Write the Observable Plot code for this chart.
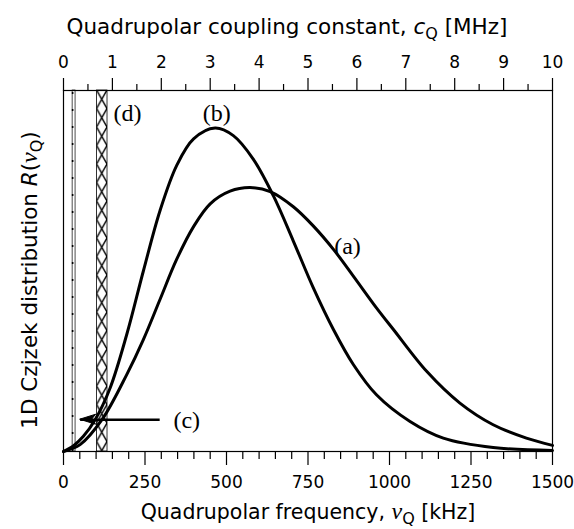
<!DOCTYPE html>
<html><head><meta charset="utf-8">
<script src="https://cdn.jsdelivr.net/npm/d3@7"></script>
<script src="https://cdn.jsdelivr.net/npm/@observablehq/plot@0.6"></script>
<style>
html,body{margin:0;padding:0;background:#fff;}
</style></head><body><div id="chart"></div>
<script>
// ---- data ----
// curve (a): quadrupolar frequency [kHz] and R(νQ) (arbitrary units)
const nuA = [0, 51, 118, 194, 245, 296, 347, 399, 450, 511, 572, 634, 705, 766, 828, 889, 960, 1012, 1114, 1216, 1318, 1420, 1500];
const rA  = [0, 1.9, 8.8, 21.3, 31.0, 42.1, 53.2, 62.3, 68.6, 72.1, 73.1, 72.0, 67.8, 62.5, 56.0, 48.6, 39.8, 33.8, 22.2, 13.4, 7.4, 3.7, 1.7];
// curve (b)
const nuB = [0, 31, 61, 97, 143, 194, 245, 296, 347, 399, 465, 521, 582, 644, 705, 766, 828, 889, 960, 1063, 1165, 1318, 1500];
const rB  = [0, 1.6, 4.2, 8.8, 17.6, 32.4, 50.0, 66.7, 79.2, 86.6, 89.6, 87.5, 81.0, 70.8, 58.3, 45.4, 33.8, 24.1, 15.7, 8.3, 3.7, 1.1, 0.3];
// bands (kHz)
const bandC = [28, 37];
const bandD = [103, 135];
// arrow (c): [kHz, R]
const arrowFrom = [295, 8.8];
const arrowTo = [51, 8.8];
// curve labels
const labelText = ["(a)", "(b)", "(c)", "(d)"];
const labelNu   = [871, 470, 378, 196];
const labelR    = [56.8, 93.8, 8.6, 93.6];
// ticks
const bottomMajor = [0, 250, 500, 750, 1000, 1250, 1500];
const bottomMinor = [50, 100, 150, 200, 300, 350, 400, 450, 550, 600, 650, 700, 800, 850, 900, 950, 1050, 1100, 1150, 1200, 1300, 1350, 1400, 1450];
const topMajor = [0, 1, 2, 3, 4, 5, 6, 7, 8, 9, 10];          // MHz
const topMinor = [0.5, 1.5, 2.5, 3.5, 4.5, 5.5, 6.5, 7.5, 8.5, 9.5];
const kHzPerMHz = 150; // νQ = cQ * 150 kHz/MHz (top axis conversion)

const SANS = '"DejaVu Sans",sans-serif';
const SERIF = '"Liberation Serif","DejaVu Serif",serif';

const curveA = nuA.map((x, i) => ({x, y: rA[i]}));
const curveB = nuB.map((x, i) => ({x, y: rB[i]}));
const labels = labelText.map((t, i) => ({t, x: labelNu[i], y: labelR[i]}));

const plot = Plot.plot({
  width: 574, height: 529,
  marginLeft: 63, marginRight: 22, marginTop: 90, marginBottom: 78,
  x: {domain: [0, 1500]},
  y: {domain: [0, 100], axis: null},
  style: {fontFamily: SANS, background: "#fff", color: "#000"},
  marks: [
    Plot.rect([bandC], {x1: d => d[0], x2: d => d[1], y1: () => 0, y2: () => 100, fill: "white", stroke: "black", strokeWidth: 0.7}),
    Plot.ruleX([bandC[0]], {x: d => d, y1: () => 0, y2: () => 100, stroke: "black", strokeWidth: 1.6, strokeDasharray: "2,15"}),
    Plot.rect([bandD], {x1: d => d[0], x2: d => d[1], y1: () => 0, y2: () => 100, fill: "url(#xhatch)", stroke: "black", strokeWidth: 0.8}),
    Plot.line(curveA, {x: "x", y: "y", curve: "catmull-rom", stroke: "black", strokeWidth: 3}),
    Plot.line(curveB, {x: "x", y: "y", curve: "catmull-rom", stroke: "black", strokeWidth: 3}),
    Plot.link([{a: arrowFrom, b: arrowTo}], {x1: d => d.a[0], y1: d => d.a[1], x2: d => d.b[0], y2: d => d.b[1], stroke: "black", strokeWidth: 2.5}),
    Plot.text(labels, {x: "x", y: "y", text: "t", textAnchor: "middle", fontFamily: SERIF, fontSize: 24, fill: "black"}),
    Plot.frame({stroke: "black", strokeWidth: 1.2}),
    Plot.axisX(bottomMajor, {anchor: "bottom", tickSize: 14, tickPadding: 10, tickFormat: d => String(d), fontSize: 17, label: null, strokeWidth: 1.2}),
    Plot.axisX(bottomMinor, {anchor: "bottom", tickSize: 8, tickFormat: () => "", label: null, strokeWidth: 1.2}),
    Plot.axisX(topMajor.map(c => c * kHzPerMHz), {anchor: "top", tickSize: 13, tickPadding: 10, tickFormat: d => String(d / kHzPerMHz), fontSize: 17, label: null, strokeWidth: 1.2}),
    Plot.axisX(topMinor.map(c => c * kHzPerMHz), {anchor: "top", tickSize: 7, tickFormat: () => "", label: null, strokeWidth: 1.2})
  ]
});

const svg = d3.select(plot);
const xs = plot.scale("x"), ys = plot.scale("y");
const px1 = xs.apply(bandD[0]), px2 = xs.apply(bandD[1]);
const w = px2 - px1, h = 18.5;
const defs = svg.insert("defs", ":first-child");
const pat = defs.append("pattern").attr("id", "xhatch").attr("patternUnits", "userSpaceOnUse")
  .attr("x", px1).attr("y", 90).attr("width", w).attr("height", h);
pat.append("rect").attr("width", w).attr("height", h).attr("fill", "white");
pat.append("path").attr("d", `M0,0L${w},${h}M${w},0L0,${h}`).attr("stroke", "black").attr("stroke-width", 1.4).attr("fill", "none");

// filled arrow head at the (c) arrow tip
const tx = xs.apply(arrowTo[0]), ty = ys.apply(arrowTo[1]);
svg.append("path").attr("d", `M${tx},${ty}L${tx + 16},${ty - 5}L${tx + 12},${ty}L${tx + 16},${ty + 5}Z`).attr("fill", "black").attr("stroke", "black").attr("stroke-width", 1);

function title(g, parts, size) {
  const t = g.append("text").attr("font-family", SANS).attr("font-size", size).attr("fill", "black").attr("text-anchor", "middle");
  for (const p of parts) {
    const s = t.append("tspan").text(p.t);
    if (p.italic) s.attr("font-style", "italic");
    if (p.serif) s.attr("font-family", SERIF).attr("font-size", 24);
    if (p.sub) s.attr("font-size", 16).attr("dy", 5);
    if (p.up) s.attr("dy", -5);
  }
  return t;
}
title(svg.append("g").attr("transform", "translate(287,34)"), [
  {t: "Quadrupolar coupling constant, "}, {t: "c", italic: true}, {t: "Q", sub: true}, {t: " [MHz]", up: true}
], 21.5);
title(svg.append("g").attr("transform", "translate(308,519)"), [
  {t: "Quadrupolar frequency, "}, {t: "ν", italic: true, serif: true}, {t: "Q", sub: true}, {t: " [kHz]", up: true}
], 20.5);
title(svg.append("g").attr("transform", "translate(37,280) rotate(-90)"), [
  {t: "1D Czjzek distribution "}, {t: "R", italic: true}, {t: "(", }, {t: "ν", italic: true, serif: true}, {t: "Q", sub: true}, {t: ")", up: true}
], 21.5);

document.getElementById("chart").appendChild(plot);
</script></body></html>
